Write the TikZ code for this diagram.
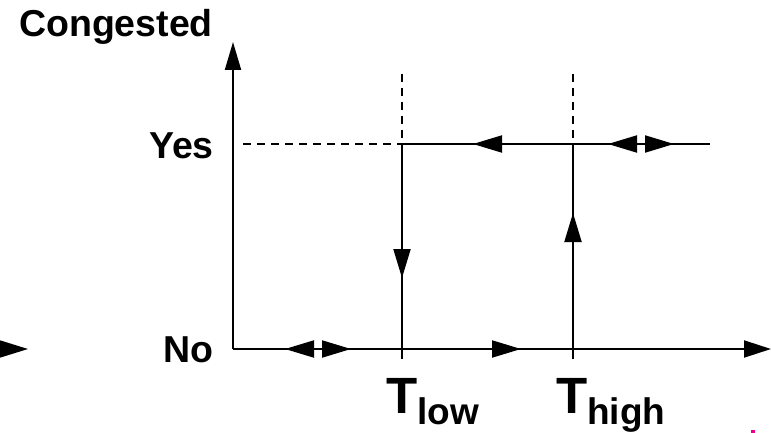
\documentclass[tikz,border=0pt]{standalone}
\usepackage{fontspec}
\setmainfont{Liberation Sans}
\usetikzlibrary{arrows.meta}
\begin{document}
\begin{tikzpicture}[x=1pt,y=-1pt,
  ln/.style={line width=2pt},
  dsh/.style={line width=1.8pt,dash pattern=on 8pt off 6pt},
  head/.style={line width=2pt,-{Triangle[length=29pt,width=17pt]}},
  lbl/.style={inner sep=0pt,font=\bfseries\fontsize{37.5}{40}\selectfont},
  tlbl/.style={inner sep=0pt,anchor=base west}]
\useasboundingbox (0,0) rectangle (771,433);
% coordinates
\coordinate (O) at (233,349);
\coordinate (ytop) at (233,42);
\coordinate (xend) at (771,349);
\coordinate (ydash0) at (243,144);
\coordinate (lowY) at (402,144);
\coordinate (highY) at (573,144);
\coordinate (yesend) at (710,144);
\coordinate (lowtop) at (402,74);
\coordinate (hightop) at (573,74);
\coordinate (lowbot) at (402,359);
\coordinate (highbot) at (573,359);
% axes
\draw[line width=2pt,-{Triangle[length=28pt,width=16pt]}] (O) -- (ytop);
\draw[line width=2pt,-{Triangle[length=27pt,width=17pt]}] (O) -- (xend);
% dashed guides
\draw[dsh] (ydash0) -- (lowY);
\draw[dsh] (lowtop) -- (lowY);
\draw[dsh] (hightop) -- (highY);
% solid lines
\draw[ln] (lowY) -- (yesend);
\draw[ln] (lowY) -- (lowbot);
\draw[ln] (highbot) -- (highY);
% arrow heads on the Yes line
\draw[head] (502,144) -- (473,144);
\draw[head] (638,144) -- (608,144);
\draw[head] (645,144) -- (674,144);
% arrow heads on the No line
\draw[head] (314,349) -- (285,349);
\draw[head] (322,349) -- (351,349);
\draw[head] (492,349) -- (521,349);
% arrow heads on verticals
\draw[head] (402,249) -- (402,278);
\draw[head] (573,242) -- (573,213);
% stray arrowhead at left edge
\fill (-1,340) -- (28,349) -- (-1,358) -- cycle;
% labels
\node[lbl,anchor=base] (cong) at (116,37) {Congested};
\node[lbl,anchor=base east] (yes) at (214,159) {Yes};
\node[lbl,anchor=base east] (no) at (214,362) {No};
\node[tlbl] (tlow) at (386,413) {\bfseries\fontsize{51}{51}\selectfont T\raisebox{-11pt}{\fontsize{37}{37}\selectfont low}};
\node[tlbl] (thigh) at (556,413) {\bfseries\fontsize{51}{51}\selectfont T\raisebox{-11pt}{\fontsize{37}{37}\selectfont high}};
% small magenta mark
\fill[magenta] (751,430) rectangle (755,433);
\end{tikzpicture}
\end{document}
